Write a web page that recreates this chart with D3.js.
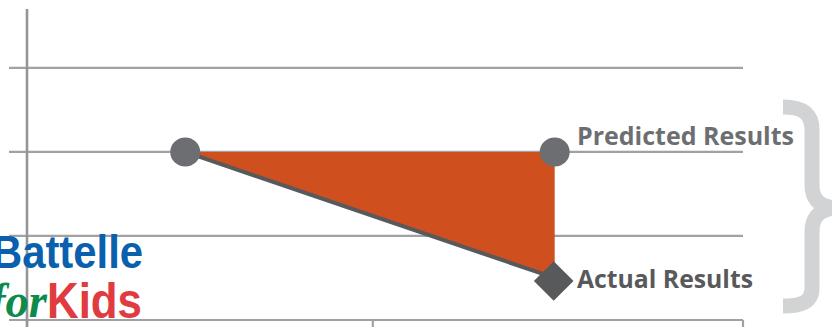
<!DOCTYPE html>
<html>
<head>
<meta charset="utf-8">
<script src="https://cdn.jsdelivr.net/npm/d3@7"></script>
<style>
  html, body { margin: 0; padding: 0; background: #fff; overflow: hidden; }
  svg { display: block; }
</style>
</head>
<body>
<svg id="chart" width="832" height="327"></svg>
<script>
// ---- data ----
const yTicks = [0, 1, 2, 3];
const xTicks = [0, 48.3, 100];
const predictedX = [22.1, 73.7];
const predictedY = [2, 2];
const actualX = [73.7];
const actualY = [0.5];
const seriesLabels = ["Predicted Results", "Actual Results"];
const logoWords = ["Battelle", "for", "Kids"];

// ---- scales ----
const svg = d3.select("#chart");
const x = d3.scaleLinear().domain([0, 100]).range([27, 743]);
const y = d3.scaleLinear().domain([0, 3.7]).range([320, 9]);

const gridColor = "#a0a1a4";

// gridlines (including baseline)
svg.append("g").selectAll("line").data(yTicks).join("line")
  .attr("x1", x(0) - 18).attr("x2", x(100))
  .attr("y1", d => y(d)).attr("y2", d => y(d))
  .attr("stroke", gridColor).attr("stroke-width", 2.2);

// x ticks (downward)
svg.append("g").selectAll("line").data(xTicks).join("line")
  .attr("x1", d => x(d)).attr("x2", d => x(d))
  .attr("y1", y(0)).attr("y2", 330)
  .attr("stroke", gridColor).attr("stroke-width", 2.2);

// y axis
svg.append("line")
  .attr("x1", x(0)).attr("x2", x(0))
  .attr("y1", y(3.7)).attr("y2", 330)
  .attr("stroke", "#939598").attr("stroke-width", 2.6);

// logo (real text)
const logo = svg.append("g");
logo.append("text")
  .attr("x", -8).attr("y", 268)
  .attr("font-family", "Liberation Sans, Arial, sans-serif")
  .attr("font-weight", 700).attr("font-size", 46)
  .attr("textLength", 151).attr("lengthAdjust", "spacingAndGlyphs")
  .attr("fill", "#0a60ad").text(logoWords[0]);
logo.append("text")
  .attr("x", -10).attr("y", 317)
  .attr("font-family", "Liberation Serif, serif")
  .attr("font-style", "italic").attr("font-weight", 700).attr("font-size", 48)
  .attr("textLength", 57).attr("lengthAdjust", "spacingAndGlyphs")
  .attr("fill", "#0e8a4c").text(logoWords[1]);
logo.append("text")
  .attr("x", 47).attr("y", 318)
  .attr("font-family", "Liberation Sans, Arial, sans-serif")
  .attr("font-weight", 700).attr("font-size", 50)
  .attr("textLength", 95).attr("lengthAdjust", "spacingAndGlyphs")
  .attr("fill", "#e03b40").text(logoWords[2]);

// orange gap area
const areaPts = [
  [x(predictedX[0]), y(predictedY[0])],
  [x(predictedX[1]), y(predictedY[1])],
  [x(actualX[0]), y(actualY[0])]
];
svg.append("path")
  .attr("d", d3.line()(areaPts) + "Z")
  .attr("fill", "#d04f1e");

// actual trajectory line
svg.append("path")
  .attr("d", d3.line()([[x(predictedX[0]), y(predictedY[0])], [x(actualX[0]), y(actualY[0])]]))
  .attr("stroke", "#58595b").attr("stroke-width", 4).attr("fill", "none");

// predicted points
svg.append("g").selectAll("ellipse").data(predictedX).join("ellipse")
  .attr("cx", (d) => x(d)).attr("cy", (d, i) => y(predictedY[i]))
  .attr("rx", 15).attr("ry", 14.5)
  .attr("fill", "#6d6e71");

// actual diamond
svg.append("g").selectAll("path").data(actualX).join("path")
  .attr("transform", (d, i) => `translate(${x(d) - 1},${y(actualY[i]) + 3}) rotate(45)`)
  .attr("d", d3.symbol().type(d3.symbolSquare).size(28 * 28))
  .attr("fill", "#58595b");

// labels
svg.append("text")
  .attr("x", 577).attr("y", 145)
  .attr("font-family", "Open Sans, sans-serif").attr("font-weight", 700)
  .attr("font-size", 24.5).attr("textLength", 217).attr("lengthAdjust", "spacingAndGlyphs")
  .attr("fill", "#6d6e71").text(seriesLabels[0]);
svg.append("text")
  .attr("x", 577).attr("y", 288)
  .attr("font-family", "Open Sans, sans-serif").attr("font-weight", 700)
  .attr("font-size", 24.5).attr("textLength", 176).attr("lengthAdjust", "spacingAndGlyphs")
  .attr("fill", "#58595b").text(seriesLabels[1]);

// brace
svg.append("path")
  .attr("d", "M783,107 C800,107 812,111 812,130 L812,185 C812,200 820,206 834,208 C820,210 812,216 812,232 L812,288 C812,303 800,306 783,306")
  .attr("stroke", "#d1d3d4").attr("stroke-width", 15).attr("fill", "none");
</script>
</body>
</html>
